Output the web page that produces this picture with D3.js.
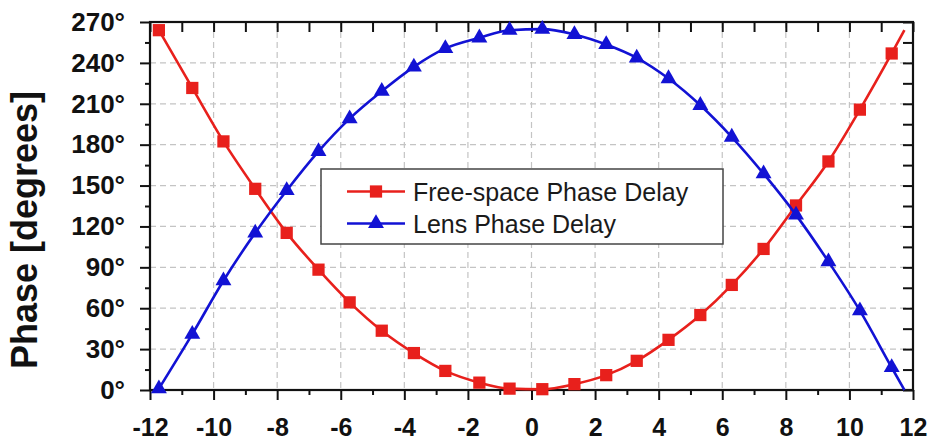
<!DOCTYPE html>
<html>
<head>
<meta charset="utf-8">
<script src="https://cdn.jsdelivr.net/npm/d3@7"></script>
<style>
	body { margin: 0; background: #fff; }
	text { font-family: Arial, "Liberation Sans", sans-serif; }
</style>
</head>
<body>
<div id="chart"></div>
<script>
// positions of the markers (the last value only closes the lines, no marker)
var xPositions = [-11.72, -10.67, -9.69, -8.69, -7.70, -6.70, -5.72, -4.71, -3.70, -2.71, -1.64, -0.69,
	0.34, 1.35, 2.35, 3.31, 4.31, 5.31, 6.30, 7.30, 8.32, 9.34, 10.33, 11.33, 11.73];
var freeSpaceDelay = [264.0, 221.6, 182.4, 147.6, 115.3, 88.3, 64.3, 43.5, 27.1, 14.0, 5.4, 1.0,
	0.6, 4.3, 10.9, 21.4, 36.8, 55.0, 77.1, 103.5, 135.4, 167.7, 205.7, 246.9, 264.0];
var lensDelay = [1.0, 41.0, 80.2, 115.3, 146.4, 175.1, 199.1, 219.2, 237.1, 250.6, 258.4, 264.0,
	264.8, 260.9, 253.5, 243.7, 228.5, 208.9, 185.6, 158.7, 128.5, 94.2, 58.2, 16.5, 0.0];

var xTicks = [-12, -10, -8, -6, -4, -2, 0, 2, 4, 6, 8, 10, 12];
var yTicks = [0, 30, 60, 90, 120, 150, 180, 210, 240, 270];
var seriesNames = ['Free-space Phase Delay', 'Lens Phase Delay'];
var yTitle = 'Phase [degrees]';

var params = {};

function defineParams(){
	params.width = 935;
	params.height = 441;
	params.margin = {top: 22, right: 22, bottom: 51, left: 150};
	params.plotWidth = params.width - params.margin.left - params.margin.right;
	params.plotHeight = params.height - params.margin.top - params.margin.bottom;
	params.red = '#e8201c';
	params.blue = '#1212d4';
	params.nMarkers = xPositions.length - 1;
}

function makeSeries(values){
	return xPositions.map(function(x, i){ return {x: x, y: values[i], i: i}; });
}

function createChart(){
	var svg = d3.select('#chart').append('svg')
		.attr('width', params.width)
		.attr('height', params.height);

	params.svg = svg.append('g')
		.attr('transform', 'translate(' + params.margin.left + ',' + params.margin.top + ')');

	params.xAxis = d3.scaleLinear().domain([-12, 12]).range([0, params.plotWidth]);
	params.yAxis = d3.scaleLinear().domain([0, 270]).range([params.plotHeight, 0]);

	//dashed grid at the inner major ticks
	var grid = params.svg.append('g').attr('class', 'grid')
		.attr('stroke', '#c4c4c4')
		.attr('stroke-width', 1.2)
		.attr('stroke-dasharray', '6,4');
	grid.selectAll('.vgrid')
		.data(xTicks.slice(1, -1))
		.enter().append('line')
			.attr('x1', function(d){ return params.xAxis(d); })
			.attr('x2', function(d){ return params.xAxis(d); })
			.attr('y1', 0)
			.attr('y2', params.plotHeight);
	grid.selectAll('.hgrid')
		.data(yTicks.slice(1, -1))
		.enter().append('line')
			.attr('y1', function(d){ return params.yAxis(d); })
			.attr('y2', function(d){ return params.yAxis(d); })
			.attr('x1', 0)
			.attr('x2', params.plotWidth);

	drawAxes();
	drawSeries(makeSeries(freeSpaceDelay), params.red, d3.symbolSquare, 150);
	drawSeries(makeSeries(lensDelay), params.blue, d3.symbolTriangle, 110);
	drawLegend();

	//y title, a bit below the plot middle as in the original
	svg.append('text')
		.attr('transform', 'translate(37,230) rotate(-90)')
		.attr('text-anchor', 'middle')
		.style('font-size', '36px')
		.style('font-weight', 'bold')
		.attr('fill', '#111')
		.text(yTitle);
}

function drawAxes(){
	var minorX = d3.range(-11, 12, 2);
	var minorY = d3.range(15, 270, 30);
	var allX = d3.range(-12, 13, 1);
	var allY = d3.range(0, 271, 15);

	//bottom, outward ticks
	params.svg.append('g')
		.attr('transform', 'translate(0,' + params.plotHeight + ')')
		.call(d3.axisBottom(params.xAxis).tickValues(minorX).tickSize(5).tickFormat('').tickSizeOuter(0));
	var bottom = params.svg.append('g')
		.attr('class', 'labels')
		.attr('transform', 'translate(0,' + params.plotHeight + ')')
		.call(d3.axisBottom(params.xAxis).tickValues(xTicks).tickSize(10).tickPadding(11).tickSizeOuter(0)
			.tickFormat(function(d){ return String(d); })); // plain hyphen like the original
	bottom.selectAll('text').style('font-size', '25px').attr('dy', '1em');

	//left, outward ticks
	params.svg.append('g')
		.call(d3.axisLeft(params.yAxis).tickValues(minorY).tickSize(5).tickFormat('').tickSizeOuter(0));
	var left = params.svg.append('g')
		.attr('class', 'labels')
		.call(d3.axisLeft(params.yAxis).tickValues(yTicks).tickSize(10).tickPadding(15).tickSizeOuter(0)
			.tickFormat(function(d){ return d + '°'; }));
	left.selectAll('text').style('font-size', '26px');

	//top and right, inward ticks at every step
	params.svg.append('g')
		.call(d3.axisBottom(params.xAxis).tickValues(allX).tickSize(10).tickFormat('').tickSizeOuter(0));
	params.svg.append('g')
		.attr('transform', 'translate(' + params.plotWidth + ',0)')
		.call(d3.axisLeft(params.yAxis).tickValues(allY).tickSize(10).tickFormat('').tickSizeOuter(0));

	params.svg.selectAll('.tick line').attr('stroke', '#111').attr('stroke-width', 2);
	params.svg.selectAll('.domain').remove();
	params.svg.selectAll('.labels text')
		.attr('fill', '#111')
		.style('font-weight', 'bold')
		.style('font-family', 'Arial, "Liberation Sans", sans-serif');

	//frame
	params.svg.append('rect')
		.attr('width', params.plotWidth)
		.attr('height', params.plotHeight)
		.attr('fill', 'none')
		.attr('stroke', '#111')
		.attr('stroke-width', 2.2);
}

function drawSeries(data, color, symbol, size){
	var line = d3.line()
		.x(function(d){ return params.xAxis(d.x); })
		.y(function(d){ return params.yAxis(d.y); })
		.curve(d3.curveMonotoneX);

	params.svg.append('path')
		.datum(data)
		.attr('fill', 'none')
		.attr('stroke', color)
		.attr('stroke-width', 2.6)
		.attr('d', line);

	params.svg.append('g').selectAll('path')
		.data(data.filter(function(d){ return d.i < params.nMarkers; }))
		.enter().append('path')
			.attr('transform', function(d){ return 'translate(' + params.xAxis(d.x) + ',' + params.yAxis(d.y) + ')'; })
			.attr('d', d3.symbol().type(symbol).size(size))
			.attr('fill', color);
}

function drawLegend(){
	var svg = d3.select('#chart svg');
	var legend = svg.append('g').attr('transform', 'translate(321,169)');
	legend.append('rect')
		.attr('width', 402)
		.attr('height', 75)
		.attr('fill', '#fff')
		.attr('stroke', '#444')
		.attr('stroke-width', 1.5);

	var items = [
		{name: seriesNames[0], color: params.red, symbol: d3.symbolSquare, size: 150},
		{name: seriesNames[1], color: params.blue, symbol: d3.symbolTriangle, size: 110}
	];
	var rows = legend.selectAll('.row')
		.data(items)
		.enter().append('g')
			.attr('transform', function(d, i){ return 'translate(0,' + (22.5 + i * 32) + ')'; });
	rows.append('line')
		.attr('x1', 26).attr('x2', 84)
		.attr('stroke', function(d){ return d.color; })
		.attr('stroke-width', 2.6);
	rows.append('path')
		.attr('transform', 'translate(55,0)')
		.attr('d', function(d){ return d3.symbol().type(d.symbol).size(d.size)(); })
		.attr('fill', function(d){ return d.color; });
	rows.append('text')
		.attr('x', 92)
		.attr('dy', '0.36em')
		.style('font-size', '25px')
		.attr('fill', '#1a1a1a')
		.text(function(d){ return d.name; });
}

function init(){
	defineParams();
	createChart();
}

init();
</script>
</body>
</html>
